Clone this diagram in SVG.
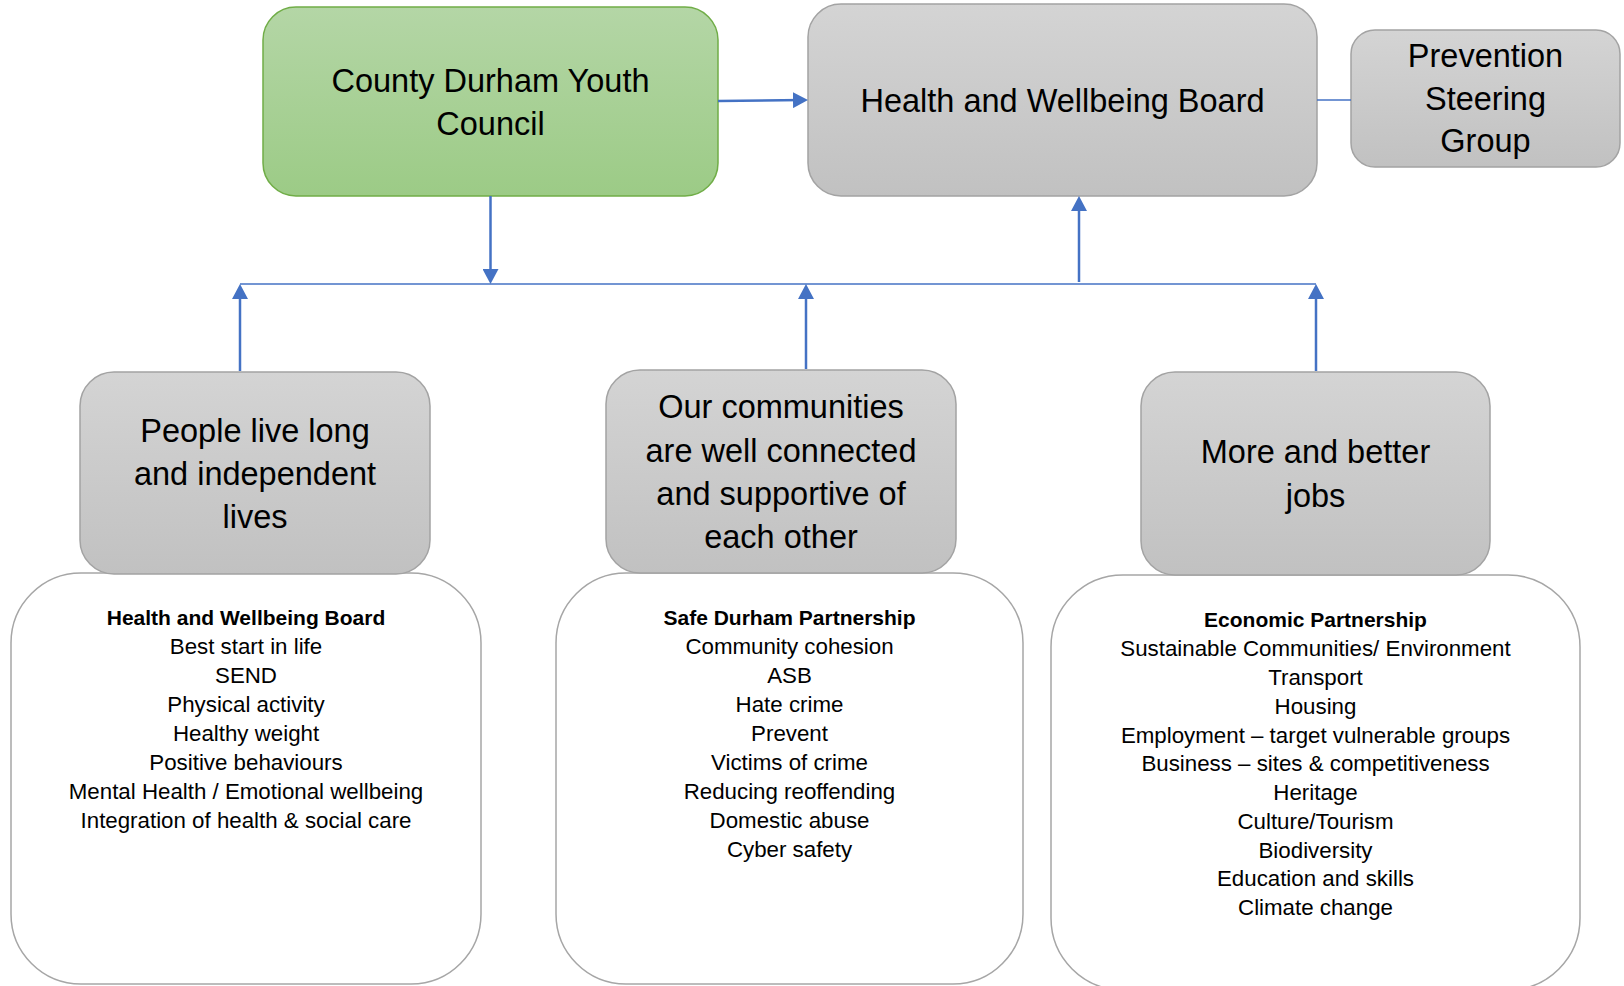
<svg xmlns="http://www.w3.org/2000/svg" width="1624" height="986" viewBox="0 0 1624 986">
<defs>
<linearGradient id="gGray" x1="0" y1="0" x2="0" y2="1">
<stop offset="0" stop-color="#d4d4d4"/>
<stop offset="1" stop-color="#c1c1c1"/>
</linearGradient>
<linearGradient id="gGreen" x1="0" y1="0" x2="0" y2="1">
<stop offset="0" stop-color="#b4d6a6"/>
<stop offset="1" stop-color="#9ccb86"/>
</linearGradient>
<marker id="arr" viewBox="0 0 15 16" refX="10" refY="8" markerWidth="15" markerHeight="16" markerUnits="userSpaceOnUse" orient="auto">
<path d="M0,0 L15,8 L0,16 z" fill="#4472c4"/>
</marker>
<style>
.gray{fill:url(#gGray);stroke:#a3a3a3;stroke-width:1.5}
.green{fill:url(#gGreen);stroke:#70ad47;stroke-width:1.5}
.white{fill:#ffffff;stroke:#a6a6a6;stroke-width:1.5}
.t{font-family:"Liberation Sans",Arial,sans-serif;font-size:32.5px;fill:#000;text-anchor:middle}
.l{font-family:"Liberation Sans",Arial,sans-serif;font-size:22.3px;fill:#000;text-anchor:middle}
.b{font-weight:bold;font-size:21px}
.c{stroke:#4472c4;fill:none}
.a{stroke-width:2.5;marker-end:url(#arr)}
.thin{stroke-width:1.5}
</style>
</defs>

<g id="list-health">
<rect class="white" x="11" y="573" width="470" height="411" rx="70"/>
<text class="l b" x="246" y="625">Health and Wellbeing Board</text>
<text class="l" x="246" y="654">Best start in life</text>
<text class="l" x="246" y="683">SEND</text>
<text class="l" x="246" y="712">Physical activity</text>
<text class="l" x="246" y="741">Healthy weight</text>
<text class="l" x="246" y="769.5">Positive behaviours</text>
<text class="l" x="246" y="798.5">Mental Health / Emotional wellbeing</text>
<text class="l" x="246" y="827.5">Integration of health &amp; social care</text>
</g>

<g id="list-safe">
<rect class="white" x="556" y="573" width="467" height="411" rx="70"/>
<text class="l b" x="789.5" y="625">Safe Durham Partnership</text>
<text class="l" x="789.5" y="654">Community cohesion</text>
<text class="l" x="789.5" y="683">ASB</text>
<text class="l" x="789.5" y="712">Hate crime</text>
<text class="l" x="789.5" y="741">Prevent</text>
<text class="l" x="789.5" y="769.5">Victims of crime</text>
<text class="l" x="789.5" y="798.5">Reducing reoffending</text>
<text class="l" x="789.5" y="827.5">Domestic abuse</text>
<text class="l" x="789.5" y="856.5">Cyber safety</text>
</g>

<g id="list-economic">
<rect class="white" x="1051" y="575" width="529" height="415" rx="72"/>
<text class="l b" x="1315.5" y="627">Economic Partnership</text>
<text class="l" x="1315.5" y="656">Sustainable Communities/ Environment</text>
<text class="l" x="1315.5" y="685">Transport</text>
<text class="l" x="1315.5" y="713.5">Housing</text>
<text class="l" x="1315.5" y="742.5">Employment – target vulnerable groups</text>
<text class="l" x="1315.5" y="771">Business – sites &amp; competitiveness</text>
<text class="l" x="1315.5" y="800">Heritage</text>
<text class="l" x="1315.5" y="828.5">Culture/Tourism</text>
<text class="l" x="1315.5" y="857.5">Biodiversity</text>
<text class="l" x="1315.5" y="886">Education and skills</text>
<text class="l" x="1315.5" y="914.5">Climate change</text>
</g>

<g id="youth-council">
<rect class="green" x="263" y="7" width="455" height="189" rx="33"/>
<text class="t" x="490.5" y="92">County Durham Youth</text>
<text class="t" x="490.5" y="135">Council</text>
</g>

<g id="hwb">
<rect class="gray" x="808" y="4" width="509" height="192" rx="33"/>
<text class="t" x="1062.5" y="112">Health and Wellbeing Board</text>
</g>

<g id="prevention">
<rect class="gray" x="1351" y="30" width="269" height="137" rx="24"/>
<text class="t" x="1485.5" y="67">Prevention</text>
<text class="t" x="1485.5" y="110">Steering</text>
<text class="t" x="1485.5" y="152">Group</text>
</g>

<g id="people">
<rect class="gray" x="80" y="372" width="350" height="202" rx="34"/>
<text class="t" x="255" y="442">People live long</text>
<text class="t" x="255" y="485">and independent</text>
<text class="t" x="255" y="528">lives</text>
</g>

<g id="communities">
<rect class="gray" x="606" y="370" width="350" height="203" rx="34"/>
<text class="t" x="781" y="418">Our communities</text>
<text class="t" x="781" y="462">are well connected</text>
<text class="t" x="781" y="505">and supportive of</text>
<text class="t" x="781" y="548">each other</text>
</g>

<g id="jobs">
<rect class="gray" x="1141" y="372" width="349" height="203" rx="34"/>
<text class="t" x="1315.5" y="463">More and better</text>
<text class="t" x="1315.5" y="507">jobs</text>
</g>

<g id="connectors">
<line class="c thin" x1="240" y1="284" x2="1316" y2="284"/>
<line class="c thin" x1="1317" y1="100" x2="1351" y2="100"/>
<line class="c a" x1="718" y1="101" x2="803" y2="100"/>
<line class="c a" x1="490.5" y1="196" x2="490.5" y2="279"/>
<line class="c a" x1="1079" y1="282" x2="1079" y2="201"/>
<line class="c a" x1="240" y1="371" x2="240" y2="289"/>
<line class="c a" x1="806" y1="369" x2="806" y2="289"/>
<line class="c a" x1="1316" y1="371" x2="1316" y2="289"/>
</g>
</svg>
